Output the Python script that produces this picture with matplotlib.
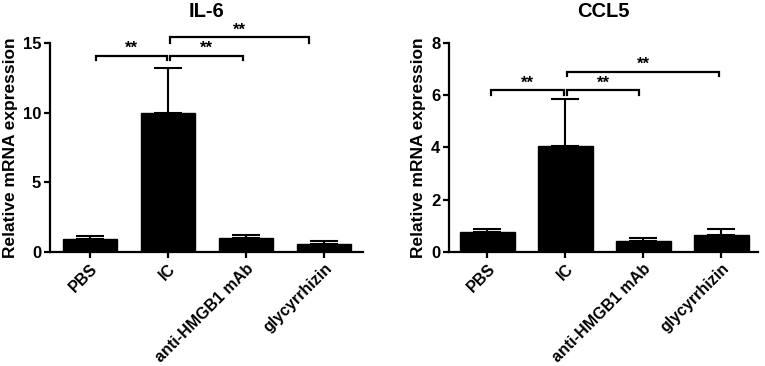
import matplotlib
matplotlib.use("Agg")
import matplotlib.pyplot as plt

plt.rcParams['font.family'] = ['Liberation Sans', 'DejaVu Sans']
plt.rcParams['font.weight'] = 'bold'

categories = ["PBS", "IC", "anti-HMGB1 mAb", "glycyrrhizin"]

il6_mean = [0.91, 9.97, 0.99, 0.58]
il6_err = [0.22, 3.27, 0.21, 0.17]
il6_ticks = [0, 5, 10, 15]
# brackets: (x_start, x_end, y_line, y_tick_bottom, label)
il6_brackets = [(0.07, 0.99, 14.1, 13.78, "**"),
                (1.03, 1.96, 14.1, 13.78, "**"),
                (1.03, 2.81, 15.42, 15.04, "**")]

ccl5_mean = [0.77, 4.04, 0.41, 0.63]
ccl5_err = [0.10, 1.84, 0.10, 0.23]
ccl5_ticks = [0, 2, 4, 6, 8]
ccl5_brackets = [(0.05, 0.98, 6.19, 6.03, "**"),
                 (1.02, 1.95, 6.19, 6.03, "**"),
                 (1.02, 2.97, 6.9, 6.73, "**")]

fig = plt.figure(figsize=(7.65, 3.66), dpi=100)

def panel(rect, title, means, errs, ticks, brackets, xlim, label_x):
    ax = fig.add_axes(rect)
    x = list(range(len(categories)))
    ax.bar(x, means, width=0.7, color='black', edgecolor='black', zorder=2)
    ax.errorbar(x, means, yerr=[[0]*len(errs), errs], fmt='none',
                ecolor='black', elinewidth=1.5, capsize=10, capthick=1.5, zorder=3)
    ax.set_xlim(*xlim)
    ax.set_ylim(0, ticks[-1])
    ax.set_yticks(ticks)
    ax.set_xticks(x)
    ax.set_xticklabels(categories, rotation=45, ha='right', rotation_mode='anchor',
                       fontsize=11.5, fontweight='bold')
    for lab in ax.get_yticklabels():
        lab.set_fontsize(12)
        lab.set_fontweight('bold')
    ax.spines['top'].set_visible(False)
    ax.spines['right'].set_visible(False)
    for s in ('left', 'bottom'):
        ax.spines[s].set_linewidth(1.6)
    ax.tick_params(width=1.6, length=4.5, pad=2)
    ax.set_ylabel("Relative mRNA expression", fontsize=12.5, fontweight='bold')
    ax.yaxis.set_label_coords(label_x, 0.5)
    ax.set_title(title, fontsize=14.5, fontweight='bold', pad=19)
    for x0, x1, yl, yb, lab in brackets:
        ax.plot([x0, x0, x1, x1], [yb, yl, yl, yb], color='black', lw=1.6,
                clip_on=False, solid_joinstyle='miter')
        ax.text((x0 + x1) / 2, yl, lab, ha='center', va='bottom', fontsize=12,
                fontweight='bold')
    return ax

panel([0.0654, 0.3123, 0.4088, 0.5694], "IL-6", il6_mean, il6_err, il6_ticks,
      il6_brackets, (-0.513, 3.496), -0.102)
panel([0.5873, 0.3123, 0.4035, 0.5694], "CCL5", ccl5_mean, ccl5_err, ccl5_ticks,
      ccl5_brackets, (-0.49, 3.47), -0.076)

fig.savefig("out.png", dpi=100)
